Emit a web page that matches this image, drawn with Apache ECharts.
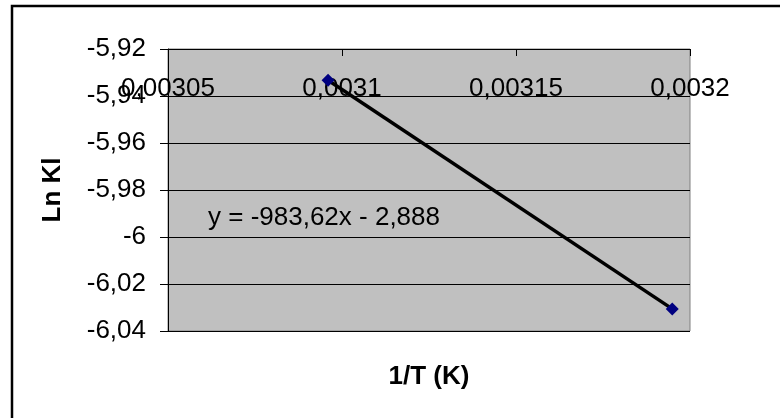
<!DOCTYPE html>
<html>
<head>
<meta charset="utf-8">
<script src="https://cdn.jsdelivr.net/npm/echarts@6/dist/echarts.min.js"></script>
<style>
  html, body {margin: 0; padding: 0; background: #fff;}
  #chart {width: 780px; height: 418px;}
</style>
</head>
<body>
<div id="chart"></div>
<script>
// 1/T values and Ln Kl values
const invT = [0.003096, 0.0031949];
const lnKl = [-5.9333, -6.0306];
const equationText = "y = -983,62x - 2,888";

const FONT = "Liberation Sans, Arial, sans-serif";

const toComma = (v, digits) => String(Number(v.toFixed(digits))).replace(".", ",");

const chart = echarts.init(document.getElementById("chart"));

const option = {
  animation: false,
  backgroundColor: "#fff",
  grid: {
    left: 168, right: 90, top: 49, bottom: 87,
    show: true, backgroundColor: "#c0c0c0", borderColor: "#808080", borderWidth: 1,
  },
  xAxis: {
    type: "value",
    position: "top",
    min: 0.00305,
    max: 0.0032,
    interval: 0.00005,
    name: "1/T (K)",
    nameLocation: "middle",
    nameGap: -341,
    nameTextStyle: {fontFamily: FONT, fontSize: 26, fontWeight: "bold", color: "#000"},
    axisLine: {show: true, lineStyle: {color: "#000", width: 1}},
    axisTick: {show: true, inside: true, length: 7, lineStyle: {color: "#000"}},
    axisLabel: {
      inside: true, margin: 27, showMinLabel: true, showMaxLabel: true,
      fontFamily: FONT, fontSize: 26, color: "#000",
      formatter: (v) => toComma(v, 6),
    },
    splitLine: {show: false},
  },
  yAxis: {
    type: "value",
    min: -6.04,
    max: -5.92,
    interval: 0.02,
    name: "Ln Kl",
    nameLocation: "middle",
    nameGap: 102,
    nameRotate: 90,
    nameTextStyle: {fontFamily: FONT, fontSize: 26, fontWeight: "bold", color: "#000"},
    axisLine: {show: true, lineStyle: {color: "#000", width: 1}},
    axisTick: {show: true, length: 8, lineStyle: {color: "#000"}},
    axisLabel: {
      margin: 22, showMinLabel: true, showMaxLabel: true,
      fontFamily: FONT, fontSize: 26, color: "#000",
      formatter: (v) => toComma(v, 2),
    },
    splitLine: {show: true, lineStyle: {color: "#000", width: 1}},
  },
  series: [{
    type: "line",
    data: invT.map((x, i) => [x, lnKl[i]]),
    symbol: "diamond",
    symbolSize: 13,
    itemStyle: {color: "#000080"},
    lineStyle: {color: "#000", width: 3.5},
    z: 3,
  }],
  graphic: [
    {
      type: "rect",
      shape: {x: 12, y: 6, width: 820, height: 460},
      style: {fill: "none", stroke: "#000", lineWidth: 2.5},
      silent: true,
    },
    {
      type: "text",
      left: 208,
      top: 205,
      style: {text: equationText, font: "26px " + FONT, fill: "#000"},
      z: 10,
    },
  ],
};

chart.setOption(option);
</script>
</body>
</html>
